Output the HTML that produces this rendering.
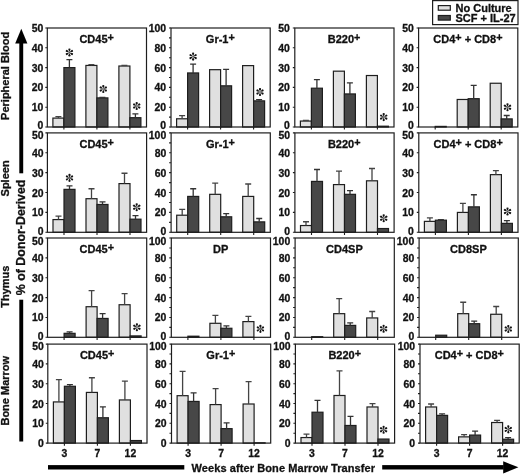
<!DOCTYPE html>
<html><head><meta charset="utf-8"><style>
html,body{margin:0;padding:0;background:#fff;}
body{width:520px;height:474px;overflow:hidden;}
svg{display:block;font-family:"Liberation Sans",sans-serif;font-weight:bold;filter:grayscale(1);}
text{stroke:#111;stroke-width:0.3px;}
.n{font-size:10.4px;fill:#111;}
.t{font-size:11px;fill:#111;}
.v{fill:#111;}
.b{font-size:11px;fill:#111;}
</style></head><body>
<svg width="520" height="474" viewBox="0 0 520 474">
<rect width="520" height="474" fill="#fff"/>
<rect x="52.9" y="118.09" width="11" height="8.91" fill="#e0e0e0" stroke="#1e1e1e" stroke-width="1.2"/>
<path d="M58.4 118.09V116.71M55.4 116.71H61.4" stroke="#444" stroke-width="1.3" fill="none"/>
<rect x="63.9" y="67.6" width="11" height="59.4" fill="#474747" stroke="#1e1e1e" stroke-width="1.2"/>
<path d="M69.4 67.6V59.68M66.4 59.68H72.4" stroke="#333" stroke-width="1.3" fill="none"/>
<rect x="85.9" y="65.43" width="11" height="61.57" fill="#e0e0e0" stroke="#1e1e1e" stroke-width="1.2"/>
<path d="M91.4 65.43V64.63M88.4 64.63H94.4" stroke="#444" stroke-width="1.3" fill="none"/>
<rect x="96.9" y="97.9" width="11" height="29.1" fill="#474747" stroke="#1e1e1e" stroke-width="1.2"/>
<path d="M102.4 97.9V97.3M99.4 97.3H105.4" stroke="#333" stroke-width="1.3" fill="none"/>
<rect x="118.9" y="66.02" width="11" height="60.98" fill="#e0e0e0" stroke="#1e1e1e" stroke-width="1.2"/>
<path d="M124.4 66.02V65.43M121.4 65.43H127.4" stroke="#444" stroke-width="1.3" fill="none"/>
<rect x="129.9" y="117.7" width="11" height="9.3" fill="#474747" stroke="#1e1e1e" stroke-width="1.2"/>
<path d="M135.4 117.7V113.94M132.4 113.94H138.4" stroke="#333" stroke-width="1.3" fill="none"/>
<rect x="47.3" y="28" width="99.2" height="99" fill="none" stroke="#1e1e1e" stroke-width="1.2"/>
<text x="43.4" y="129.3" text-anchor="end" class="n">0</text>
<text x="43.4" y="111.2" text-anchor="end" class="n">10</text>
<text x="43.4" y="91.4" text-anchor="end" class="n">20</text>
<text x="43.4" y="71.6" text-anchor="end" class="n">30</text>
<text x="43.4" y="51.8" text-anchor="end" class="n">40</text>
<text x="43.4" y="32.2" text-anchor="end" class="n">50</text>
<path d="M45.3 127H47.3M45.3 107.2H47.3M45.3 87.4H47.3M45.3 67.6H47.3M45.3 47.8H47.3M45.3 28H47.3M63.9 127V129.6M96.9 127V129.6M129.9 127V129.6" stroke="#1e1e1e" stroke-width="1.1" fill="none"/>
<text x="96.6" y="42.8" text-anchor="middle" class="t"><tspan>CD45</tspan><tspan font-size="10.8" dy="-2.1">+</tspan></text>
<g fill="#141414" transform="translate(69.4 52.5)"><path d="M0 -0.4L1.0 -2.7A1.05 1.05 0 1 0 -1.0 -2.7Z" transform="rotate(0)"/><path d="M0 -0.4L1.0 -2.7A1.05 1.05 0 1 0 -1.0 -2.7Z" transform="rotate(60)"/><path d="M0 -0.4L1.0 -2.7A1.05 1.05 0 1 0 -1.0 -2.7Z" transform="rotate(120)"/><path d="M0 -0.4L1.0 -2.7A1.05 1.05 0 1 0 -1.0 -2.7Z" transform="rotate(180)"/><path d="M0 -0.4L1.0 -2.7A1.05 1.05 0 1 0 -1.0 -2.7Z" transform="rotate(240)"/><path d="M0 -0.4L1.0 -2.7A1.05 1.05 0 1 0 -1.0 -2.7Z" transform="rotate(300)"/><circle r="0.8" fill="#555"/></g>
<g fill="#141414" transform="translate(103.3 89)"><path d="M0 -0.4L1.0 -2.7A1.05 1.05 0 1 0 -1.0 -2.7Z" transform="rotate(0)"/><path d="M0 -0.4L1.0 -2.7A1.05 1.05 0 1 0 -1.0 -2.7Z" transform="rotate(60)"/><path d="M0 -0.4L1.0 -2.7A1.05 1.05 0 1 0 -1.0 -2.7Z" transform="rotate(120)"/><path d="M0 -0.4L1.0 -2.7A1.05 1.05 0 1 0 -1.0 -2.7Z" transform="rotate(180)"/><path d="M0 -0.4L1.0 -2.7A1.05 1.05 0 1 0 -1.0 -2.7Z" transform="rotate(240)"/><path d="M0 -0.4L1.0 -2.7A1.05 1.05 0 1 0 -1.0 -2.7Z" transform="rotate(300)"/><circle r="0.8" fill="#555"/></g>
<g fill="#141414" transform="translate(136.7 106)"><path d="M0 -0.4L1.0 -2.7A1.05 1.05 0 1 0 -1.0 -2.7Z" transform="rotate(0)"/><path d="M0 -0.4L1.0 -2.7A1.05 1.05 0 1 0 -1.0 -2.7Z" transform="rotate(60)"/><path d="M0 -0.4L1.0 -2.7A1.05 1.05 0 1 0 -1.0 -2.7Z" transform="rotate(120)"/><path d="M0 -0.4L1.0 -2.7A1.05 1.05 0 1 0 -1.0 -2.7Z" transform="rotate(180)"/><path d="M0 -0.4L1.0 -2.7A1.05 1.05 0 1 0 -1.0 -2.7Z" transform="rotate(240)"/><path d="M0 -0.4L1.0 -2.7A1.05 1.05 0 1 0 -1.0 -2.7Z" transform="rotate(300)"/><circle r="0.8" fill="#555"/></g>
<rect x="176.6" y="118.79" width="11" height="8.21" fill="#e0e0e0" stroke="#1e1e1e" stroke-width="1.2"/>
<path d="M182.1 118.79V115.62M179.1 115.62H185.1" stroke="#444" stroke-width="1.3" fill="none"/>
<rect x="187.6" y="72.95" width="11" height="54.05" fill="#474747" stroke="#1e1e1e" stroke-width="1.2"/>
<path d="M193.1 72.95V64.04M190.1 64.04H196.1" stroke="#333" stroke-width="1.3" fill="none"/>
<rect x="209.6" y="69.68" width="11" height="57.32" fill="#e0e0e0" stroke="#1e1e1e" stroke-width="1.2"/>
<rect x="220.6" y="85.82" width="11" height="41.18" fill="#474747" stroke="#1e1e1e" stroke-width="1.2"/>
<path d="M226.1 85.82V69.29M223.1 69.29H229.1" stroke="#333" stroke-width="1.3" fill="none"/>
<rect x="242.6" y="65.62" width="11" height="61.38" fill="#e0e0e0" stroke="#1e1e1e" stroke-width="1.2"/>
<rect x="253.6" y="100.87" width="11" height="26.13" fill="#474747" stroke="#1e1e1e" stroke-width="1.2"/>
<path d="M259.1 100.87V99.68M256.1 99.68H262.1" stroke="#333" stroke-width="1.3" fill="none"/>
<rect x="171" y="28" width="99.2" height="99" fill="none" stroke="#1e1e1e" stroke-width="1.2"/>
<text x="166.1" y="129.3" text-anchor="end" class="n">0</text>
<text x="166.1" y="111.2" text-anchor="end" class="n">20</text>
<text x="166.1" y="91.4" text-anchor="end" class="n">40</text>
<text x="166.1" y="71.6" text-anchor="end" class="n">60</text>
<text x="166.1" y="51.8" text-anchor="end" class="n">80</text>
<text x="166.1" y="32.2" text-anchor="end" class="n">100</text>
<path d="M169 127H171M169 117.1H171M169 107.2H171M169 97.3H171M169 87.4H171M169 77.5H171M169 67.6H171M169 57.7H171M169 47.8H171M169 37.9H171M169 28H171M187.6 127V129.6M220.6 127V129.6M253.6 127V129.6" stroke="#1e1e1e" stroke-width="1.1" fill="none"/>
<text x="220.3" y="42.8" text-anchor="middle" class="t"><tspan>Gr-1</tspan><tspan font-size="10.8" dy="-2.1">+</tspan></text>
<g fill="#141414" transform="translate(193.1 56.6)"><path d="M0 -0.4L1.0 -2.7A1.05 1.05 0 1 0 -1.0 -2.7Z" transform="rotate(0)"/><path d="M0 -0.4L1.0 -2.7A1.05 1.05 0 1 0 -1.0 -2.7Z" transform="rotate(60)"/><path d="M0 -0.4L1.0 -2.7A1.05 1.05 0 1 0 -1.0 -2.7Z" transform="rotate(120)"/><path d="M0 -0.4L1.0 -2.7A1.05 1.05 0 1 0 -1.0 -2.7Z" transform="rotate(180)"/><path d="M0 -0.4L1.0 -2.7A1.05 1.05 0 1 0 -1.0 -2.7Z" transform="rotate(240)"/><path d="M0 -0.4L1.0 -2.7A1.05 1.05 0 1 0 -1.0 -2.7Z" transform="rotate(300)"/><circle r="0.8" fill="#555"/></g>
<g fill="#141414" transform="translate(260 92)"><path d="M0 -0.4L1.0 -2.7A1.05 1.05 0 1 0 -1.0 -2.7Z" transform="rotate(0)"/><path d="M0 -0.4L1.0 -2.7A1.05 1.05 0 1 0 -1.0 -2.7Z" transform="rotate(60)"/><path d="M0 -0.4L1.0 -2.7A1.05 1.05 0 1 0 -1.0 -2.7Z" transform="rotate(120)"/><path d="M0 -0.4L1.0 -2.7A1.05 1.05 0 1 0 -1.0 -2.7Z" transform="rotate(180)"/><path d="M0 -0.4L1.0 -2.7A1.05 1.05 0 1 0 -1.0 -2.7Z" transform="rotate(240)"/><path d="M0 -0.4L1.0 -2.7A1.05 1.05 0 1 0 -1.0 -2.7Z" transform="rotate(300)"/><circle r="0.8" fill="#555"/></g>
<rect x="300.4" y="121.06" width="11" height="5.94" fill="#e0e0e0" stroke="#1e1e1e" stroke-width="1.2"/>
<path d="M305.9 121.06V120.47M302.9 120.47H308.9" stroke="#444" stroke-width="1.3" fill="none"/>
<rect x="311.4" y="88.2" width="11" height="38.8" fill="#474747" stroke="#1e1e1e" stroke-width="1.2"/>
<path d="M316.9 88.2V79.68M313.9 79.68H319.9" stroke="#333" stroke-width="1.3" fill="none"/>
<rect x="333.4" y="71.17" width="11" height="55.83" fill="#e0e0e0" stroke="#1e1e1e" stroke-width="1.2"/>
<rect x="344.4" y="93.94" width="11" height="33.06" fill="#474747" stroke="#1e1e1e" stroke-width="1.2"/>
<path d="M349.9 93.94V82.85M346.9 82.85H352.9" stroke="#333" stroke-width="1.3" fill="none"/>
<rect x="366.4" y="75.52" width="11" height="51.48" fill="#e0e0e0" stroke="#1e1e1e" stroke-width="1.2"/>
<rect x="377.4" y="126.21" width="11" height="0.79" fill="#474747" stroke="#1e1e1e" stroke-width="1.2"/>
<rect x="294.8" y="28" width="99.2" height="99" fill="none" stroke="#1e1e1e" stroke-width="1.2"/>
<text x="289.9" y="129.3" text-anchor="end" class="n">0</text>
<text x="289.9" y="111.2" text-anchor="end" class="n">10</text>
<text x="289.9" y="91.4" text-anchor="end" class="n">20</text>
<text x="289.9" y="71.6" text-anchor="end" class="n">30</text>
<text x="289.9" y="51.8" text-anchor="end" class="n">40</text>
<text x="289.9" y="32.2" text-anchor="end" class="n">50</text>
<path d="M292.8 127H294.8M292.8 107.2H294.8M292.8 87.4H294.8M292.8 67.6H294.8M292.8 47.8H294.8M292.8 28H294.8M311.4 127V129.6M344.4 127V129.6M377.4 127V129.6" stroke="#1e1e1e" stroke-width="1.1" fill="none"/>
<text x="344.1" y="42.8" text-anchor="middle" class="t"><tspan>B220</tspan><tspan font-size="10.8" dy="-2.1">+</tspan></text>
<g fill="#141414" transform="translate(383.7 117.1)"><path d="M0 -0.4L1.0 -2.7A1.05 1.05 0 1 0 -1.0 -2.7Z" transform="rotate(0)"/><path d="M0 -0.4L1.0 -2.7A1.05 1.05 0 1 0 -1.0 -2.7Z" transform="rotate(60)"/><path d="M0 -0.4L1.0 -2.7A1.05 1.05 0 1 0 -1.0 -2.7Z" transform="rotate(120)"/><path d="M0 -0.4L1.0 -2.7A1.05 1.05 0 1 0 -1.0 -2.7Z" transform="rotate(180)"/><path d="M0 -0.4L1.0 -2.7A1.05 1.05 0 1 0 -1.0 -2.7Z" transform="rotate(240)"/><path d="M0 -0.4L1.0 -2.7A1.05 1.05 0 1 0 -1.0 -2.7Z" transform="rotate(300)"/><circle r="0.8" fill="#555"/></g>
<rect x="435.2" y="126.41" width="11" height="0.59" fill="#474747" stroke="#1e1e1e" stroke-width="1.2"/>
<rect x="457.2" y="99.48" width="11" height="27.52" fill="#e0e0e0" stroke="#1e1e1e" stroke-width="1.2"/>
<rect x="468.2" y="98.69" width="11" height="28.31" fill="#474747" stroke="#1e1e1e" stroke-width="1.2"/>
<path d="M473.7 98.69V85.42M470.7 85.42H476.7" stroke="#333" stroke-width="1.3" fill="none"/>
<rect x="490.2" y="83.25" width="11" height="43.75" fill="#e0e0e0" stroke="#1e1e1e" stroke-width="1.2"/>
<rect x="501.2" y="118.89" width="11" height="8.11" fill="#474747" stroke="#1e1e1e" stroke-width="1.2"/>
<path d="M506.7 118.89V115.52M503.7 115.52H509.7" stroke="#333" stroke-width="1.3" fill="none"/>
<rect x="418.6" y="28" width="99.2" height="99" fill="none" stroke="#1e1e1e" stroke-width="1.2"/>
<text x="413.7" y="129.3" text-anchor="end" class="n">0</text>
<text x="413.7" y="111.2" text-anchor="end" class="n">10</text>
<text x="413.7" y="91.4" text-anchor="end" class="n">20</text>
<text x="413.7" y="71.6" text-anchor="end" class="n">30</text>
<text x="413.7" y="51.8" text-anchor="end" class="n">40</text>
<text x="413.7" y="32.2" text-anchor="end" class="n">50</text>
<path d="M416.6 127H418.6M416.6 107.2H418.6M416.6 87.4H418.6M416.6 67.6H418.6M416.6 47.8H418.6M416.6 28H418.6M435.2 127V129.6M468.2 127V129.6M501.2 127V129.6" stroke="#1e1e1e" stroke-width="1.1" fill="none"/>
<text x="467.9" y="42.8" text-anchor="middle" class="t"><tspan>CD4</tspan><tspan font-size="10.8" dy="-2.1">+</tspan><tspan dy="2.1"> + CD8</tspan><tspan font-size="10.8" dy="-2.1">+</tspan></text>
<g fill="#141414" transform="translate(507.5 107.3)"><path d="M0 -0.4L1.0 -2.7A1.05 1.05 0 1 0 -1.0 -2.7Z" transform="rotate(0)"/><path d="M0 -0.4L1.0 -2.7A1.05 1.05 0 1 0 -1.0 -2.7Z" transform="rotate(60)"/><path d="M0 -0.4L1.0 -2.7A1.05 1.05 0 1 0 -1.0 -2.7Z" transform="rotate(120)"/><path d="M0 -0.4L1.0 -2.7A1.05 1.05 0 1 0 -1.0 -2.7Z" transform="rotate(180)"/><path d="M0 -0.4L1.0 -2.7A1.05 1.05 0 1 0 -1.0 -2.7Z" transform="rotate(240)"/><path d="M0 -0.4L1.0 -2.7A1.05 1.05 0 1 0 -1.0 -2.7Z" transform="rotate(300)"/><circle r="0.8" fill="#555"/></g>
<rect x="53" y="219.58" width="11" height="12.72" fill="#e0e0e0" stroke="#1e1e1e" stroke-width="1.2"/>
<path d="M58.5 219.58V216.2M55.5 216.2H61.5" stroke="#444" stroke-width="1.3" fill="none"/>
<rect x="64" y="189.36" width="11" height="42.94" fill="#474747" stroke="#1e1e1e" stroke-width="1.2"/>
<path d="M69.5 189.36V185.78M66.5 185.78H72.5" stroke="#333" stroke-width="1.3" fill="none"/>
<rect x="86" y="198.71" width="11" height="33.59" fill="#e0e0e0" stroke="#1e1e1e" stroke-width="1.2"/>
<path d="M91.5 198.71V188.77M88.5 188.77H94.5" stroke="#444" stroke-width="1.3" fill="none"/>
<rect x="97" y="204.47" width="11" height="27.83" fill="#474747" stroke="#1e1e1e" stroke-width="1.2"/>
<path d="M102.5 204.47V201.89M99.5 201.89H105.5" stroke="#333" stroke-width="1.3" fill="none"/>
<rect x="119" y="183.6" width="11" height="48.7" fill="#e0e0e0" stroke="#1e1e1e" stroke-width="1.2"/>
<path d="M124.5 183.6V173.26M121.5 173.26H127.5" stroke="#444" stroke-width="1.3" fill="none"/>
<rect x="130" y="219.18" width="11" height="13.12" fill="#474747" stroke="#1e1e1e" stroke-width="1.2"/>
<path d="M135.5 219.18V215.6M132.5 215.6H138.5" stroke="#333" stroke-width="1.3" fill="none"/>
<rect x="47.4" y="132.9" width="99.2" height="99.4" fill="none" stroke="#1e1e1e" stroke-width="1.2"/>
<text x="43.5" y="235.1" text-anchor="end" class="n">0</text>
<text x="43.5" y="216.42" text-anchor="end" class="n">10</text>
<text x="43.5" y="196.54" text-anchor="end" class="n">20</text>
<text x="43.5" y="176.66" text-anchor="end" class="n">30</text>
<text x="43.5" y="156.78" text-anchor="end" class="n">40</text>
<text x="43.5" y="139" text-anchor="end" class="n">50</text>
<path d="M45.4 232.3H47.4M45.4 212.42H47.4M45.4 192.54H47.4M45.4 172.66H47.4M45.4 152.78H47.4M45.4 132.9H47.4M64 232.3V234.9M97 232.3V234.9M130 232.3V234.9" stroke="#1e1e1e" stroke-width="1.1" fill="none"/>
<text x="96.7" y="147.7" text-anchor="middle" class="t"><tspan>CD45</tspan><tspan font-size="10.8" dy="-2.1">+</tspan></text>
<g fill="#141414" transform="translate(69.5 177.9)"><path d="M0 -0.4L1.0 -2.7A1.05 1.05 0 1 0 -1.0 -2.7Z" transform="rotate(0)"/><path d="M0 -0.4L1.0 -2.7A1.05 1.05 0 1 0 -1.0 -2.7Z" transform="rotate(60)"/><path d="M0 -0.4L1.0 -2.7A1.05 1.05 0 1 0 -1.0 -2.7Z" transform="rotate(120)"/><path d="M0 -0.4L1.0 -2.7A1.05 1.05 0 1 0 -1.0 -2.7Z" transform="rotate(180)"/><path d="M0 -0.4L1.0 -2.7A1.05 1.05 0 1 0 -1.0 -2.7Z" transform="rotate(240)"/><path d="M0 -0.4L1.0 -2.7A1.05 1.05 0 1 0 -1.0 -2.7Z" transform="rotate(300)"/><circle r="0.8" fill="#555"/></g>
<g fill="#141414" transform="translate(136.7 207.2)"><path d="M0 -0.4L1.0 -2.7A1.05 1.05 0 1 0 -1.0 -2.7Z" transform="rotate(0)"/><path d="M0 -0.4L1.0 -2.7A1.05 1.05 0 1 0 -1.0 -2.7Z" transform="rotate(60)"/><path d="M0 -0.4L1.0 -2.7A1.05 1.05 0 1 0 -1.0 -2.7Z" transform="rotate(120)"/><path d="M0 -0.4L1.0 -2.7A1.05 1.05 0 1 0 -1.0 -2.7Z" transform="rotate(180)"/><path d="M0 -0.4L1.0 -2.7A1.05 1.05 0 1 0 -1.0 -2.7Z" transform="rotate(240)"/><path d="M0 -0.4L1.0 -2.7A1.05 1.05 0 1 0 -1.0 -2.7Z" transform="rotate(300)"/><circle r="0.8" fill="#555"/></g>
<rect x="176.7" y="215.21" width="11" height="17.09" fill="#e0e0e0" stroke="#1e1e1e" stroke-width="1.2"/>
<path d="M182.2 215.21V209.34M179.2 209.34H185.2" stroke="#444" stroke-width="1.3" fill="none"/>
<rect x="187.7" y="196.42" width="11" height="35.88" fill="#474747" stroke="#1e1e1e" stroke-width="1.2"/>
<path d="M193.2 196.42V188.77M190.2 188.77H196.2" stroke="#333" stroke-width="1.3" fill="none"/>
<rect x="209.7" y="194.33" width="11" height="37.97" fill="#e0e0e0" stroke="#1e1e1e" stroke-width="1.2"/>
<path d="M215.2 194.33V183.1M212.2 183.1H218.2" stroke="#444" stroke-width="1.3" fill="none"/>
<rect x="220.7" y="216.8" width="11" height="15.5" fill="#474747" stroke="#1e1e1e" stroke-width="1.2"/>
<path d="M226.2 216.8V213.71M223.2 213.71H229.2" stroke="#333" stroke-width="1.3" fill="none"/>
<rect x="242.7" y="196.42" width="11" height="35.88" fill="#e0e0e0" stroke="#1e1e1e" stroke-width="1.2"/>
<path d="M248.2 196.42V183.99M245.2 183.99H251.2" stroke="#444" stroke-width="1.3" fill="none"/>
<rect x="253.7" y="221.87" width="11" height="10.43" fill="#474747" stroke="#1e1e1e" stroke-width="1.2"/>
<path d="M259.2 221.87V218.49M256.2 218.49H262.2" stroke="#333" stroke-width="1.3" fill="none"/>
<rect x="171.1" y="132.9" width="99.2" height="99.4" fill="none" stroke="#1e1e1e" stroke-width="1.2"/>
<text x="166.2" y="235.1" text-anchor="end" class="n">0</text>
<text x="166.2" y="216.42" text-anchor="end" class="n">20</text>
<text x="166.2" y="196.54" text-anchor="end" class="n">40</text>
<text x="166.2" y="176.66" text-anchor="end" class="n">60</text>
<text x="166.2" y="156.78" text-anchor="end" class="n">80</text>
<text x="166.2" y="139" text-anchor="end" class="n">100</text>
<path d="M169.1 232.3H171.1M169.1 222.36H171.1M169.1 212.42H171.1M169.1 202.48H171.1M169.1 192.54H171.1M169.1 182.6H171.1M169.1 172.66H171.1M169.1 162.72H171.1M169.1 152.78H171.1M169.1 142.84H171.1M169.1 132.9H171.1M187.7 232.3V234.9M220.7 232.3V234.9M253.7 232.3V234.9" stroke="#1e1e1e" stroke-width="1.1" fill="none"/>
<text x="220.4" y="147.7" text-anchor="middle" class="t"><tspan>Gr-1</tspan><tspan font-size="10.8" dy="-2.1">+</tspan></text>
<rect x="300.5" y="225.54" width="11" height="6.76" fill="#e0e0e0" stroke="#1e1e1e" stroke-width="1.2"/>
<path d="M306 225.54V221.77M303 221.77H309" stroke="#444" stroke-width="1.3" fill="none"/>
<rect x="311.5" y="181.41" width="11" height="50.89" fill="#474747" stroke="#1e1e1e" stroke-width="1.2"/>
<path d="M317 181.41V169.48M314 169.48H320" stroke="#333" stroke-width="1.3" fill="none"/>
<rect x="333.5" y="184.59" width="11" height="47.71" fill="#e0e0e0" stroke="#1e1e1e" stroke-width="1.2"/>
<path d="M339 184.59V171.07M336 171.07H342" stroke="#444" stroke-width="1.3" fill="none"/>
<rect x="344.5" y="194.33" width="11" height="37.97" fill="#474747" stroke="#1e1e1e" stroke-width="1.2"/>
<path d="M350 194.33V190.55M347 190.55H353" stroke="#333" stroke-width="1.3" fill="none"/>
<rect x="366.5" y="180.81" width="11" height="51.49" fill="#e0e0e0" stroke="#1e1e1e" stroke-width="1.2"/>
<path d="M372 180.81V168.49M369 168.49H375" stroke="#444" stroke-width="1.3" fill="none"/>
<rect x="377.5" y="228.53" width="11" height="3.77" fill="#474747" stroke="#1e1e1e" stroke-width="1.2"/>
<rect x="294.9" y="132.9" width="99.2" height="99.4" fill="none" stroke="#1e1e1e" stroke-width="1.2"/>
<text x="290" y="235.1" text-anchor="end" class="n">0</text>
<text x="290" y="216.42" text-anchor="end" class="n">10</text>
<text x="290" y="196.54" text-anchor="end" class="n">20</text>
<text x="290" y="176.66" text-anchor="end" class="n">30</text>
<text x="290" y="156.78" text-anchor="end" class="n">40</text>
<text x="290" y="139" text-anchor="end" class="n">50</text>
<path d="M292.9 232.3H294.9M292.9 212.42H294.9M292.9 192.54H294.9M292.9 172.66H294.9M292.9 152.78H294.9M292.9 132.9H294.9M311.5 232.3V234.9M344.5 232.3V234.9M377.5 232.3V234.9" stroke="#1e1e1e" stroke-width="1.1" fill="none"/>
<text x="344.2" y="147.7" text-anchor="middle" class="t"><tspan>B220</tspan><tspan font-size="10.8" dy="-2.1">+</tspan></text>
<g fill="#141414" transform="translate(383.7 218.2)"><path d="M0 -0.4L1.0 -2.7A1.05 1.05 0 1 0 -1.0 -2.7Z" transform="rotate(0)"/><path d="M0 -0.4L1.0 -2.7A1.05 1.05 0 1 0 -1.0 -2.7Z" transform="rotate(60)"/><path d="M0 -0.4L1.0 -2.7A1.05 1.05 0 1 0 -1.0 -2.7Z" transform="rotate(120)"/><path d="M0 -0.4L1.0 -2.7A1.05 1.05 0 1 0 -1.0 -2.7Z" transform="rotate(180)"/><path d="M0 -0.4L1.0 -2.7A1.05 1.05 0 1 0 -1.0 -2.7Z" transform="rotate(240)"/><path d="M0 -0.4L1.0 -2.7A1.05 1.05 0 1 0 -1.0 -2.7Z" transform="rotate(300)"/><circle r="0.8" fill="#555"/></g>
<rect x="424.4" y="221.37" width="11" height="10.93" fill="#e0e0e0" stroke="#1e1e1e" stroke-width="1.2"/>
<path d="M429.9 221.37V217.79M426.9 217.79H432.9" stroke="#444" stroke-width="1.3" fill="none"/>
<rect x="435.4" y="220.18" width="11" height="12.12" fill="#474747" stroke="#1e1e1e" stroke-width="1.2"/>
<path d="M440.9 220.18V219.58M437.9 219.58H443.9" stroke="#333" stroke-width="1.3" fill="none"/>
<rect x="457.4" y="212.42" width="11" height="19.88" fill="#e0e0e0" stroke="#1e1e1e" stroke-width="1.2"/>
<path d="M462.9 212.42V203.28M459.9 203.28H465.9" stroke="#444" stroke-width="1.3" fill="none"/>
<rect x="468.4" y="206.86" width="11" height="25.44" fill="#474747" stroke="#1e1e1e" stroke-width="1.2"/>
<path d="M473.9 206.86V194.73M470.9 194.73H476.9" stroke="#333" stroke-width="1.3" fill="none"/>
<rect x="490.4" y="174.65" width="11" height="57.65" fill="#e0e0e0" stroke="#1e1e1e" stroke-width="1.2"/>
<path d="M495.9 174.65V170.67M492.9 170.67H498.9" stroke="#444" stroke-width="1.3" fill="none"/>
<rect x="501.4" y="223.36" width="11" height="8.94" fill="#474747" stroke="#1e1e1e" stroke-width="1.2"/>
<path d="M506.9 223.36V220.57M503.9 220.57H509.9" stroke="#333" stroke-width="1.3" fill="none"/>
<rect x="418.8" y="132.9" width="99.2" height="99.4" fill="none" stroke="#1e1e1e" stroke-width="1.2"/>
<text x="413.9" y="235.1" text-anchor="end" class="n">0</text>
<text x="413.9" y="216.42" text-anchor="end" class="n">10</text>
<text x="413.9" y="196.54" text-anchor="end" class="n">20</text>
<text x="413.9" y="176.66" text-anchor="end" class="n">30</text>
<text x="413.9" y="156.78" text-anchor="end" class="n">40</text>
<text x="413.9" y="139" text-anchor="end" class="n">50</text>
<path d="M416.8 232.3H418.8M416.8 212.42H418.8M416.8 192.54H418.8M416.8 172.66H418.8M416.8 152.78H418.8M416.8 132.9H418.8M435.4 232.3V234.9M468.4 232.3V234.9M501.4 232.3V234.9" stroke="#1e1e1e" stroke-width="1.1" fill="none"/>
<text x="468.1" y="147.7" text-anchor="middle" class="t"><tspan>CD4</tspan><tspan font-size="10.8" dy="-2.1">+</tspan><tspan dy="2.1"> + CD8</tspan><tspan font-size="10.8" dy="-2.1">+</tspan></text>
<g fill="#141414" transform="translate(507.5 211.5)"><path d="M0 -0.4L1.0 -2.7A1.05 1.05 0 1 0 -1.0 -2.7Z" transform="rotate(0)"/><path d="M0 -0.4L1.0 -2.7A1.05 1.05 0 1 0 -1.0 -2.7Z" transform="rotate(60)"/><path d="M0 -0.4L1.0 -2.7A1.05 1.05 0 1 0 -1.0 -2.7Z" transform="rotate(120)"/><path d="M0 -0.4L1.0 -2.7A1.05 1.05 0 1 0 -1.0 -2.7Z" transform="rotate(180)"/><path d="M0 -0.4L1.0 -2.7A1.05 1.05 0 1 0 -1.0 -2.7Z" transform="rotate(240)"/><path d="M0 -0.4L1.0 -2.7A1.05 1.05 0 1 0 -1.0 -2.7Z" transform="rotate(300)"/><circle r="0.8" fill="#555"/></g>
<rect x="64.1" y="333.33" width="11" height="3.97" fill="#474747" stroke="#1e1e1e" stroke-width="1.2"/>
<path d="M69.6 333.33V331.94M66.6 331.94H72.6" stroke="#333" stroke-width="1.3" fill="none"/>
<rect x="86.1" y="306.72" width="11" height="30.58" fill="#e0e0e0" stroke="#1e1e1e" stroke-width="1.2"/>
<path d="M91.6 306.72V290.63M88.6 290.63H94.6" stroke="#444" stroke-width="1.3" fill="none"/>
<rect x="97.1" y="318.44" width="11" height="18.86" fill="#474747" stroke="#1e1e1e" stroke-width="1.2"/>
<path d="M102.6 318.44V313.67M99.6 313.67H105.6" stroke="#333" stroke-width="1.3" fill="none"/>
<rect x="119.1" y="304.73" width="11" height="32.57" fill="#e0e0e0" stroke="#1e1e1e" stroke-width="1.2"/>
<path d="M124.6 304.73V293.61M121.6 293.61H127.6" stroke="#444" stroke-width="1.3" fill="none"/>
<rect x="130.1" y="335.91" width="11" height="1.39" fill="#474747" stroke="#1e1e1e" stroke-width="1.2"/>
<rect x="47.5" y="238" width="99.2" height="99.3" fill="none" stroke="#1e1e1e" stroke-width="1.2"/>
<text x="43.6" y="340.4" text-anchor="end" class="n">0</text>
<text x="43.6" y="321.44" text-anchor="end" class="n">10</text>
<text x="43.6" y="301.58" text-anchor="end" class="n">20</text>
<text x="43.6" y="281.72" text-anchor="end" class="n">30</text>
<text x="43.6" y="261.86" text-anchor="end" class="n">40</text>
<text x="43.6" y="244.9" text-anchor="end" class="n">50</text>
<path d="M45.5 337.3H47.5M45.5 317.44H47.5M45.5 297.58H47.5M45.5 277.72H47.5M45.5 257.86H47.5M45.5 238H47.5M64.1 337.3V339.9M97.1 337.3V339.9M130.1 337.3V339.9" stroke="#1e1e1e" stroke-width="1.1" fill="none"/>
<text x="96.8" y="252.8" text-anchor="middle" class="t"><tspan>CD45</tspan><tspan font-size="10.8" dy="-2.1">+</tspan></text>
<g fill="#141414" transform="translate(136.9 327.3)"><path d="M0 -0.4L1.0 -2.7A1.05 1.05 0 1 0 -1.0 -2.7Z" transform="rotate(0)"/><path d="M0 -0.4L1.0 -2.7A1.05 1.05 0 1 0 -1.0 -2.7Z" transform="rotate(60)"/><path d="M0 -0.4L1.0 -2.7A1.05 1.05 0 1 0 -1.0 -2.7Z" transform="rotate(120)"/><path d="M0 -0.4L1.0 -2.7A1.05 1.05 0 1 0 -1.0 -2.7Z" transform="rotate(180)"/><path d="M0 -0.4L1.0 -2.7A1.05 1.05 0 1 0 -1.0 -2.7Z" transform="rotate(240)"/><path d="M0 -0.4L1.0 -2.7A1.05 1.05 0 1 0 -1.0 -2.7Z" transform="rotate(300)"/><circle r="0.8" fill="#555"/></g>
<rect x="187.9" y="336.21" width="11" height="1.09" fill="#474747" stroke="#1e1e1e" stroke-width="1.2"/>
<rect x="209.9" y="323.3" width="11" height="14" fill="#e0e0e0" stroke="#1e1e1e" stroke-width="1.2"/>
<path d="M215.4 323.3V315.36M212.4 315.36H218.4" stroke="#444" stroke-width="1.3" fill="none"/>
<rect x="220.9" y="328.27" width="11" height="9.03" fill="#474747" stroke="#1e1e1e" stroke-width="1.2"/>
<path d="M226.4 328.27V325.88M223.4 325.88H229.4" stroke="#333" stroke-width="1.3" fill="none"/>
<rect x="242.9" y="321.61" width="11" height="15.69" fill="#e0e0e0" stroke="#1e1e1e" stroke-width="1.2"/>
<path d="M248.4 321.61V316.45M245.4 316.45H251.4" stroke="#444" stroke-width="1.3" fill="none"/>
<rect x="171.3" y="238" width="99.2" height="99.3" fill="none" stroke="#1e1e1e" stroke-width="1.2"/>
<text x="166.4" y="340.4" text-anchor="end" class="n">0</text>
<text x="166.4" y="321.44" text-anchor="end" class="n">20</text>
<text x="166.4" y="301.58" text-anchor="end" class="n">40</text>
<text x="166.4" y="281.72" text-anchor="end" class="n">60</text>
<text x="166.4" y="261.86" text-anchor="end" class="n">80</text>
<text x="166.4" y="244.9" text-anchor="end" class="n">100</text>
<path d="M169.3 337.3H171.3M169.3 327.37H171.3M169.3 317.44H171.3M169.3 307.51H171.3M169.3 297.58H171.3M169.3 287.65H171.3M169.3 277.72H171.3M169.3 267.79H171.3M169.3 257.86H171.3M169.3 247.93H171.3M169.3 238H171.3M187.9 337.3V339.9M220.9 337.3V339.9M253.9 337.3V339.9" stroke="#1e1e1e" stroke-width="1.1" fill="none"/>
<text x="220.6" y="252.8" text-anchor="middle" class="t"><tspan>DP</tspan></text>
<g fill="#141414" transform="translate(260.4 328.9)"><path d="M0 -0.4L1.0 -2.7A1.05 1.05 0 1 0 -1.0 -2.7Z" transform="rotate(0)"/><path d="M0 -0.4L1.0 -2.7A1.05 1.05 0 1 0 -1.0 -2.7Z" transform="rotate(60)"/><path d="M0 -0.4L1.0 -2.7A1.05 1.05 0 1 0 -1.0 -2.7Z" transform="rotate(120)"/><path d="M0 -0.4L1.0 -2.7A1.05 1.05 0 1 0 -1.0 -2.7Z" transform="rotate(180)"/><path d="M0 -0.4L1.0 -2.7A1.05 1.05 0 1 0 -1.0 -2.7Z" transform="rotate(240)"/><path d="M0 -0.4L1.0 -2.7A1.05 1.05 0 1 0 -1.0 -2.7Z" transform="rotate(300)"/><circle r="0.8" fill="#555"/></g>
<rect x="311.7" y="336.71" width="11" height="0.59" fill="#474747" stroke="#1e1e1e" stroke-width="1.2"/>
<rect x="333.7" y="313.67" width="11" height="23.63" fill="#e0e0e0" stroke="#1e1e1e" stroke-width="1.2"/>
<path d="M339.2 313.67V298.58M336.2 298.58H342.2" stroke="#444" stroke-width="1.3" fill="none"/>
<rect x="344.7" y="325.39" width="11" height="11.91" fill="#474747" stroke="#1e1e1e" stroke-width="1.2"/>
<path d="M350.2 325.39V322.81M347.2 322.81H353.2" stroke="#333" stroke-width="1.3" fill="none"/>
<rect x="366.7" y="317.94" width="11" height="19.36" fill="#e0e0e0" stroke="#1e1e1e" stroke-width="1.2"/>
<path d="M372.2 317.94V311.48M369.2 311.48H375.2" stroke="#444" stroke-width="1.3" fill="none"/>
<rect x="295.1" y="238" width="99.2" height="99.3" fill="none" stroke="#1e1e1e" stroke-width="1.2"/>
<text x="290.2" y="340.4" text-anchor="end" class="n">0</text>
<text x="290.2" y="321.44" text-anchor="end" class="n">20</text>
<text x="290.2" y="301.58" text-anchor="end" class="n">40</text>
<text x="290.2" y="281.72" text-anchor="end" class="n">60</text>
<text x="290.2" y="261.86" text-anchor="end" class="n">80</text>
<text x="290.2" y="244.9" text-anchor="end" class="n">100</text>
<path d="M293.1 337.3H295.1M293.1 327.37H295.1M293.1 317.44H295.1M293.1 307.51H295.1M293.1 297.58H295.1M293.1 287.65H295.1M293.1 277.72H295.1M293.1 267.79H295.1M293.1 257.86H295.1M293.1 247.93H295.1M293.1 238H295.1M311.7 337.3V339.9M344.7 337.3V339.9M377.7 337.3V339.9" stroke="#1e1e1e" stroke-width="1.1" fill="none"/>
<text x="344.4" y="252.8" text-anchor="middle" class="t"><tspan>CD4SP</tspan></text>
<g fill="#141414" transform="translate(383.6 328.7)"><path d="M0 -0.4L1.0 -2.7A1.05 1.05 0 1 0 -1.0 -2.7Z" transform="rotate(0)"/><path d="M0 -0.4L1.0 -2.7A1.05 1.05 0 1 0 -1.0 -2.7Z" transform="rotate(60)"/><path d="M0 -0.4L1.0 -2.7A1.05 1.05 0 1 0 -1.0 -2.7Z" transform="rotate(120)"/><path d="M0 -0.4L1.0 -2.7A1.05 1.05 0 1 0 -1.0 -2.7Z" transform="rotate(180)"/><path d="M0 -0.4L1.0 -2.7A1.05 1.05 0 1 0 -1.0 -2.7Z" transform="rotate(240)"/><path d="M0 -0.4L1.0 -2.7A1.05 1.05 0 1 0 -1.0 -2.7Z" transform="rotate(300)"/><circle r="0.8" fill="#555"/></g>
<rect x="435.7" y="335.22" width="11" height="2.08" fill="#474747" stroke="#1e1e1e" stroke-width="1.2"/>
<rect x="457.7" y="313.67" width="11" height="23.63" fill="#e0e0e0" stroke="#1e1e1e" stroke-width="1.2"/>
<path d="M463.2 313.67V302.25M460.2 302.25H466.2" stroke="#444" stroke-width="1.3" fill="none"/>
<rect x="468.7" y="323.7" width="11" height="13.6" fill="#474747" stroke="#1e1e1e" stroke-width="1.2"/>
<path d="M474.2 323.7V321.12M471.2 321.12H477.2" stroke="#333" stroke-width="1.3" fill="none"/>
<rect x="490.7" y="314.27" width="11" height="23.03" fill="#e0e0e0" stroke="#1e1e1e" stroke-width="1.2"/>
<path d="M496.2 314.27V306.52M493.2 306.52H499.2" stroke="#444" stroke-width="1.3" fill="none"/>
<rect x="419.1" y="238" width="99.2" height="99.3" fill="none" stroke="#1e1e1e" stroke-width="1.2"/>
<text x="414.2" y="340.4" text-anchor="end" class="n">0</text>
<text x="414.2" y="321.44" text-anchor="end" class="n">20</text>
<text x="414.2" y="301.58" text-anchor="end" class="n">40</text>
<text x="414.2" y="281.72" text-anchor="end" class="n">60</text>
<text x="414.2" y="261.86" text-anchor="end" class="n">80</text>
<text x="414.2" y="244.9" text-anchor="end" class="n">100</text>
<path d="M417.1 337.3H419.1M417.1 327.37H419.1M417.1 317.44H419.1M417.1 307.51H419.1M417.1 297.58H419.1M417.1 287.65H419.1M417.1 277.72H419.1M417.1 267.79H419.1M417.1 257.86H419.1M417.1 247.93H419.1M417.1 238H419.1M435.7 337.3V339.9M468.7 337.3V339.9M501.7 337.3V339.9" stroke="#1e1e1e" stroke-width="1.1" fill="none"/>
<text x="468.4" y="252.8" text-anchor="middle" class="t"><tspan>CD8SP</tspan></text>
<g fill="#141414" transform="translate(508.3 329)"><path d="M0 -0.4L1.0 -2.7A1.05 1.05 0 1 0 -1.0 -2.7Z" transform="rotate(0)"/><path d="M0 -0.4L1.0 -2.7A1.05 1.05 0 1 0 -1.0 -2.7Z" transform="rotate(60)"/><path d="M0 -0.4L1.0 -2.7A1.05 1.05 0 1 0 -1.0 -2.7Z" transform="rotate(120)"/><path d="M0 -0.4L1.0 -2.7A1.05 1.05 0 1 0 -1.0 -2.7Z" transform="rotate(180)"/><path d="M0 -0.4L1.0 -2.7A1.05 1.05 0 1 0 -1.0 -2.7Z" transform="rotate(240)"/><path d="M0 -0.4L1.0 -2.7A1.05 1.05 0 1 0 -1.0 -2.7Z" transform="rotate(300)"/><circle r="0.8" fill="#555"/></g>
<rect x="53.4" y="401.92" width="11" height="41.18" fill="#e0e0e0" stroke="#1e1e1e" stroke-width="1.2"/>
<path d="M58.9 401.92V379.55M55.9 379.55H61.9" stroke="#444" stroke-width="1.3" fill="none"/>
<rect x="64.4" y="386.28" width="11" height="56.82" fill="#474747" stroke="#1e1e1e" stroke-width="1.2"/>
<path d="M69.9 386.28V384.69M66.9 384.69H72.9" stroke="#333" stroke-width="1.3" fill="none"/>
<rect x="86.4" y="392.42" width="11" height="50.68" fill="#e0e0e0" stroke="#1e1e1e" stroke-width="1.2"/>
<path d="M91.9 392.42V377.76M88.9 377.76H94.9" stroke="#444" stroke-width="1.3" fill="none"/>
<rect x="97.4" y="417.76" width="11" height="25.34" fill="#474747" stroke="#1e1e1e" stroke-width="1.2"/>
<path d="M102.9 417.76V406.87M99.9 406.87H105.9" stroke="#333" stroke-width="1.3" fill="none"/>
<rect x="119.4" y="399.94" width="11" height="43.16" fill="#e0e0e0" stroke="#1e1e1e" stroke-width="1.2"/>
<path d="M124.9 399.94V381.13M121.9 381.13H127.9" stroke="#444" stroke-width="1.3" fill="none"/>
<rect x="130.4" y="440.53" width="11" height="2.57" fill="#474747" stroke="#1e1e1e" stroke-width="1.2"/>
<rect x="47.8" y="344.1" width="99.2" height="99" fill="none" stroke="#1e1e1e" stroke-width="1.2"/>
<text x="43.9" y="446.6" text-anchor="end" class="n">0</text>
<text x="43.9" y="427.3" text-anchor="end" class="n">10</text>
<text x="43.9" y="407.5" text-anchor="end" class="n">20</text>
<text x="43.9" y="387.7" text-anchor="end" class="n">30</text>
<text x="43.9" y="367.9" text-anchor="end" class="n">40</text>
<text x="43.9" y="350.3" text-anchor="end" class="n">50</text>
<path d="M45.8 443.1H47.8M45.8 423.3H47.8M45.8 403.5H47.8M45.8 383.7H47.8M45.8 363.9H47.8M45.8 344.1H47.8M64.4 443.1V445.7M97.4 443.1V445.7M130.4 443.1V445.7" stroke="#1e1e1e" stroke-width="1.1" fill="none"/>
<text x="97.1" y="358.9" text-anchor="middle" class="t"><tspan>CD45</tspan><tspan font-size="10.8" dy="-2.1">+</tspan></text>
<text x="64.4" y="457.4" text-anchor="middle" class="n">3</text>
<text x="97.4" y="457.4" text-anchor="middle" class="n">7</text>
<text x="130.4" y="457.4" text-anchor="middle" class="n">12</text>
<rect x="177.1" y="395.68" width="11" height="47.42" fill="#e0e0e0" stroke="#1e1e1e" stroke-width="1.2"/>
<path d="M182.6 395.68V371.43M179.6 371.43H185.6" stroke="#444" stroke-width="1.3" fill="none"/>
<rect x="188.1" y="401.43" width="11" height="41.68" fill="#474747" stroke="#1e1e1e" stroke-width="1.2"/>
<path d="M193.6 401.43V392.81M190.6 392.81H196.6" stroke="#333" stroke-width="1.3" fill="none"/>
<rect x="210.1" y="404.59" width="11" height="38.51" fill="#e0e0e0" stroke="#1e1e1e" stroke-width="1.2"/>
<path d="M215.6 404.59V388.56M212.6 388.56H218.6" stroke="#444" stroke-width="1.3" fill="none"/>
<rect x="221.1" y="428.65" width="11" height="14.45" fill="#474747" stroke="#1e1e1e" stroke-width="1.2"/>
<path d="M226.6 428.65V422.81M223.6 422.81H229.6" stroke="#333" stroke-width="1.3" fill="none"/>
<rect x="243.1" y="404" width="11" height="39.1" fill="#e0e0e0" stroke="#1e1e1e" stroke-width="1.2"/>
<path d="M248.6 404V381.72M245.6 381.72H251.6" stroke="#444" stroke-width="1.3" fill="none"/>
<rect x="254.1" y="442.8" width="11" height="0.3" fill="#474747" stroke="#1e1e1e" stroke-width="1.2"/>
<rect x="171.5" y="344.1" width="99.2" height="99" fill="none" stroke="#1e1e1e" stroke-width="1.2"/>
<text x="166.6" y="446.6" text-anchor="end" class="n">0</text>
<text x="166.6" y="427.3" text-anchor="end" class="n">20</text>
<text x="166.6" y="407.5" text-anchor="end" class="n">40</text>
<text x="166.6" y="387.7" text-anchor="end" class="n">60</text>
<text x="166.6" y="367.9" text-anchor="end" class="n">80</text>
<text x="166.6" y="350.3" text-anchor="end" class="n">100</text>
<path d="M169.5 443.1H171.5M169.5 433.2H171.5M169.5 423.3H171.5M169.5 413.4H171.5M169.5 403.5H171.5M169.5 393.6H171.5M169.5 383.7H171.5M169.5 373.8H171.5M169.5 363.9H171.5M169.5 354H171.5M169.5 344.1H171.5M188.1 443.1V445.7M221.1 443.1V445.7M254.1 443.1V445.7" stroke="#1e1e1e" stroke-width="1.1" fill="none"/>
<text x="220.8" y="358.9" text-anchor="middle" class="t"><tspan>Gr-1</tspan><tspan font-size="10.8" dy="-2.1">+</tspan></text>
<text x="188.1" y="457.4" text-anchor="middle" class="n">3</text>
<text x="221.1" y="457.4" text-anchor="middle" class="n">7</text>
<text x="254.1" y="457.4" text-anchor="middle" class="n">12</text>
<rect x="301" y="437.56" width="11" height="5.54" fill="#e0e0e0" stroke="#1e1e1e" stroke-width="1.2"/>
<path d="M306.5 437.56V434.19M303.5 434.19H309.5" stroke="#444" stroke-width="1.3" fill="none"/>
<rect x="312" y="412.22" width="11" height="30.88" fill="#474747" stroke="#1e1e1e" stroke-width="1.2"/>
<path d="M317.5 412.22V400.34M314.5 400.34H320.5" stroke="#333" stroke-width="1.3" fill="none"/>
<rect x="334" y="395.49" width="11" height="47.62" fill="#e0e0e0" stroke="#1e1e1e" stroke-width="1.2"/>
<path d="M339.5 395.49V370.93M336.5 370.93H342.5" stroke="#444" stroke-width="1.3" fill="none"/>
<rect x="345" y="425.48" width="11" height="17.62" fill="#474747" stroke="#1e1e1e" stroke-width="1.2"/>
<path d="M350.5 425.48V416.47M347.5 416.47H353.5" stroke="#333" stroke-width="1.3" fill="none"/>
<rect x="367" y="406.97" width="11" height="36.13" fill="#e0e0e0" stroke="#1e1e1e" stroke-width="1.2"/>
<path d="M372.5 406.97V403.6M369.5 403.6H375.5" stroke="#444" stroke-width="1.3" fill="none"/>
<rect x="378" y="439.05" width="11" height="4.06" fill="#474747" stroke="#1e1e1e" stroke-width="1.2"/>
<rect x="295.4" y="344.1" width="99.2" height="99" fill="none" stroke="#1e1e1e" stroke-width="1.2"/>
<text x="290.5" y="446.6" text-anchor="end" class="n">0</text>
<text x="290.5" y="427.3" text-anchor="end" class="n">20</text>
<text x="290.5" y="407.5" text-anchor="end" class="n">40</text>
<text x="290.5" y="387.7" text-anchor="end" class="n">60</text>
<text x="290.5" y="367.9" text-anchor="end" class="n">80</text>
<text x="290.5" y="350.3" text-anchor="end" class="n">100</text>
<path d="M293.4 443.1H295.4M293.4 433.2H295.4M293.4 423.3H295.4M293.4 413.4H295.4M293.4 403.5H295.4M293.4 393.6H295.4M293.4 383.7H295.4M293.4 373.8H295.4M293.4 363.9H295.4M293.4 354H295.4M293.4 344.1H295.4M312 443.1V445.7M345 443.1V445.7M378 443.1V445.7" stroke="#1e1e1e" stroke-width="1.1" fill="none"/>
<text x="344.7" y="358.9" text-anchor="middle" class="t"><tspan>B220</tspan><tspan font-size="10.8" dy="-2.1">+</tspan></text>
<g fill="#141414" transform="translate(383.6 429.8)"><path d="M0 -0.4L1.0 -2.7A1.05 1.05 0 1 0 -1.0 -2.7Z" transform="rotate(0)"/><path d="M0 -0.4L1.0 -2.7A1.05 1.05 0 1 0 -1.0 -2.7Z" transform="rotate(60)"/><path d="M0 -0.4L1.0 -2.7A1.05 1.05 0 1 0 -1.0 -2.7Z" transform="rotate(120)"/><path d="M0 -0.4L1.0 -2.7A1.05 1.05 0 1 0 -1.0 -2.7Z" transform="rotate(180)"/><path d="M0 -0.4L1.0 -2.7A1.05 1.05 0 1 0 -1.0 -2.7Z" transform="rotate(240)"/><path d="M0 -0.4L1.0 -2.7A1.05 1.05 0 1 0 -1.0 -2.7Z" transform="rotate(300)"/><circle r="0.8" fill="#555"/></g>
<text x="312" y="457.4" text-anchor="middle" class="n">3</text>
<text x="345" y="457.4" text-anchor="middle" class="n">7</text>
<text x="378" y="457.4" text-anchor="middle" class="n">12</text>
<rect x="425.6" y="406.97" width="11" height="36.13" fill="#e0e0e0" stroke="#1e1e1e" stroke-width="1.2"/>
<path d="M431.1 406.97V404M428.1 404H434.1" stroke="#444" stroke-width="1.3" fill="none"/>
<rect x="436.6" y="415.38" width="11" height="27.72" fill="#474747" stroke="#1e1e1e" stroke-width="1.2"/>
<path d="M442.1 415.38V413.9M439.1 413.9H445.1" stroke="#333" stroke-width="1.3" fill="none"/>
<rect x="458.6" y="436.87" width="11" height="6.23" fill="#e0e0e0" stroke="#1e1e1e" stroke-width="1.2"/>
<path d="M464.1 436.87V434.69M461.1 434.69H467.1" stroke="#444" stroke-width="1.3" fill="none"/>
<rect x="469.6" y="435.08" width="11" height="8.02" fill="#474747" stroke="#1e1e1e" stroke-width="1.2"/>
<path d="M475.1 435.08V431.03M472.1 431.03H478.1" stroke="#333" stroke-width="1.3" fill="none"/>
<rect x="491.6" y="422.51" width="11" height="20.59" fill="#e0e0e0" stroke="#1e1e1e" stroke-width="1.2"/>
<path d="M497.1 422.51V420.33M494.1 420.33H500.1" stroke="#444" stroke-width="1.3" fill="none"/>
<rect x="502.6" y="439.24" width="11" height="3.86" fill="#474747" stroke="#1e1e1e" stroke-width="1.2"/>
<path d="M508.1 439.24V437.56M505.1 437.56H511.1" stroke="#333" stroke-width="1.3" fill="none"/>
<rect x="420" y="344.1" width="99.2" height="99" fill="none" stroke="#1e1e1e" stroke-width="1.2"/>
<text x="415.1" y="446.6" text-anchor="end" class="n">0</text>
<text x="415.1" y="427.3" text-anchor="end" class="n">20</text>
<text x="415.1" y="407.5" text-anchor="end" class="n">40</text>
<text x="415.1" y="387.7" text-anchor="end" class="n">60</text>
<text x="415.1" y="367.9" text-anchor="end" class="n">80</text>
<text x="415.1" y="350.3" text-anchor="end" class="n">100</text>
<path d="M418 443.1H420M418 433.2H420M418 423.3H420M418 413.4H420M418 403.5H420M418 393.6H420M418 383.7H420M418 373.8H420M418 363.9H420M418 354H420M418 344.1H420M436.6 443.1V445.7M469.6 443.1V445.7M502.6 443.1V445.7" stroke="#1e1e1e" stroke-width="1.1" fill="none"/>
<text x="469.3" y="358.9" text-anchor="middle" class="t"><tspan>CD4</tspan><tspan font-size="10.8" dy="-2.1">+</tspan><tspan dy="2.1"> + CD8</tspan><tspan font-size="10.8" dy="-2.1">+</tspan></text>
<g fill="#141414" transform="translate(508.3 429.4)"><path d="M0 -0.4L1.0 -2.7A1.05 1.05 0 1 0 -1.0 -2.7Z" transform="rotate(0)"/><path d="M0 -0.4L1.0 -2.7A1.05 1.05 0 1 0 -1.0 -2.7Z" transform="rotate(60)"/><path d="M0 -0.4L1.0 -2.7A1.05 1.05 0 1 0 -1.0 -2.7Z" transform="rotate(120)"/><path d="M0 -0.4L1.0 -2.7A1.05 1.05 0 1 0 -1.0 -2.7Z" transform="rotate(180)"/><path d="M0 -0.4L1.0 -2.7A1.05 1.05 0 1 0 -1.0 -2.7Z" transform="rotate(240)"/><path d="M0 -0.4L1.0 -2.7A1.05 1.05 0 1 0 -1.0 -2.7Z" transform="rotate(300)"/><circle r="0.8" fill="#555"/></g>
<text x="436.6" y="457.4" text-anchor="middle" class="n">3</text>
<text x="469.6" y="457.4" text-anchor="middle" class="n">7</text>
<text x="502.6" y="457.4" text-anchor="middle" class="n">12</text>
<path d="M21.3 28.8L27.4 43.6H15.2Z" fill="#000"/>
<rect x="19.3" y="43" width="3.9" height="130.3" fill="#000"/>
<rect x="19.3" y="299.7" width="3.9" height="141.8" fill="#000"/>
<text transform="translate(4.7 75.9) rotate(-90)" text-anchor="middle" class="v" font-size="11" dy="0.36em">Peripheral Blood</text>
<text transform="translate(4.7 178.4) rotate(-90)" text-anchor="middle" class="v" font-size="11" dy="0.36em">Spleen</text>
<text transform="translate(4.7 286.7) rotate(-90)" text-anchor="middle" class="v" font-size="11" dy="0.36em">Thymus</text>
<text transform="translate(4.7 390.7) rotate(-90)" text-anchor="middle" class="v" font-size="11" dy="0.36em">Bone Marrow</text>
<text transform="translate(20.3 237.4) rotate(-90)" text-anchor="middle" class="v" font-size="12.4" dy="0.36em">% of Donor-Derived</text>
<rect x="48" y="465.1" width="136.3" height="4.4" fill="#000"/>
<rect x="382.2" y="465.1" width="121.5" height="4.4" fill="#000"/>
<path d="M503.2 461.3L518.4 467.3L503.2 473.4Z" fill="#000"/>
<text x="191.6" y="471.8" class="b" textLength="183.4" lengthAdjust="spacing">Weeks after Bone Marrow Transfer</text>
<rect x="432.6" y="0.6" width="85.4" height="24" fill="#fff" stroke="#1e1e1e" stroke-width="1.2"/>
<rect x="438.3" y="5.6" width="12" height="4.6" fill="#e0e0e0" stroke="#1e1e1e" stroke-width="1.2"/>
<rect x="438.3" y="15.5" width="12" height="4.6" fill="#474747" stroke="#1e1e1e" stroke-width="1.2"/>
<text x="455.5" y="11.9" class="b">No Culture</text>
<text x="455.5" y="21.7" class="b">SCF + IL-27</text>
</svg>
</body></html>
